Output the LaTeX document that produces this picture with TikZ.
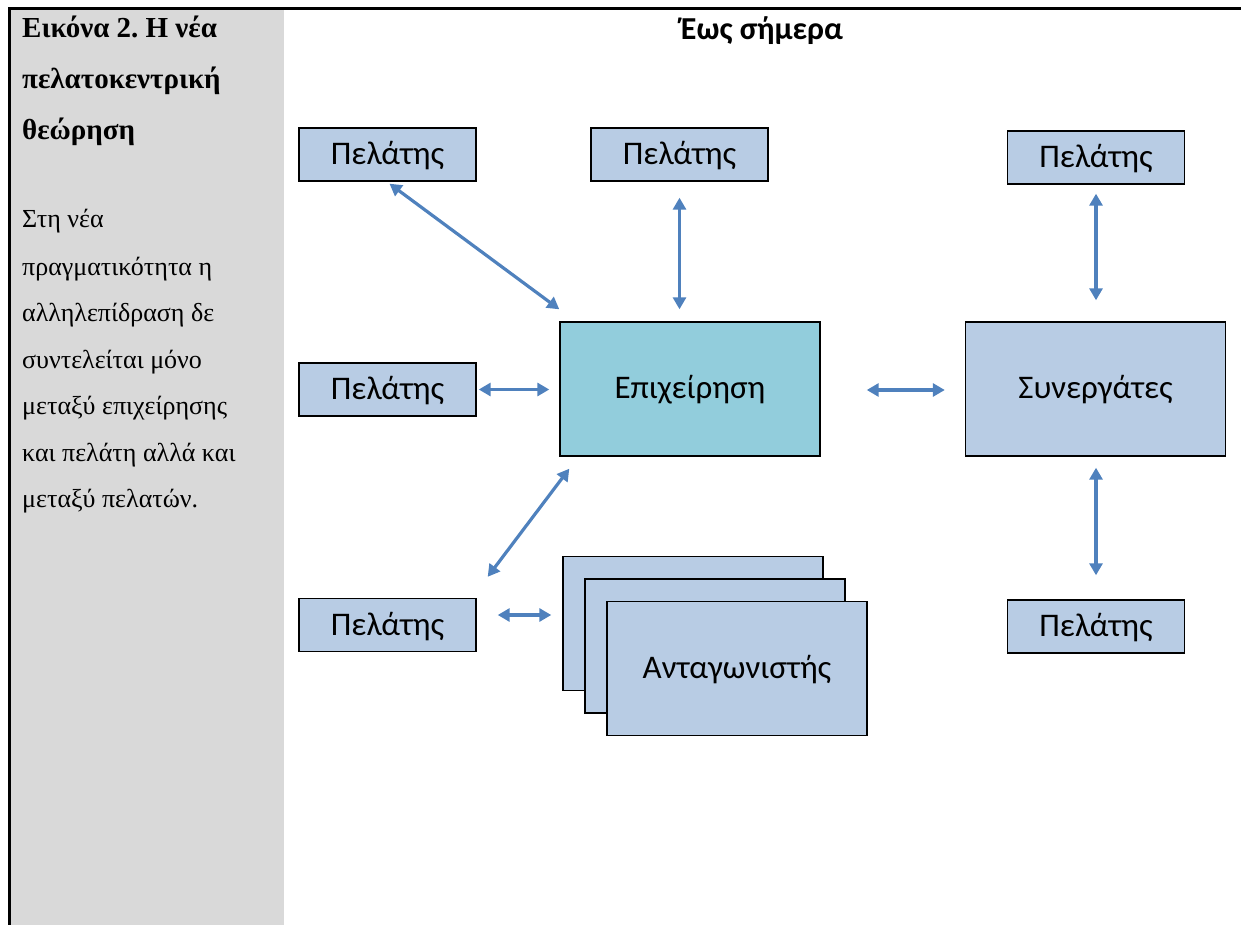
\documentclass[tikz,border=0pt]{standalone}
\usepackage{fontspec}
\setmainfont{Liberation Serif}
\newfontfamily\calibri{Carlito}
\usetikzlibrary{arrows.meta,calc}
\frenchspacing
\definecolor{arrowblue}{HTML}{4F81BD}
\definecolor{boxblue}{HTML}{B8CCE4}
\definecolor{entblue}{HTML}{92CDDC}
\definecolor{panelgray}{HTML}{D9D9D9}
\tikzset{
  biarrow/.style={draw=arrowblue, line width=3.2pt,
    {Triangle[length=12pt,width=13pt]}-{Triangle[length=12pt,width=13pt]}},
  pbox/.style={draw=black, line width=1.4pt, fill=boxblue, inner sep=0pt,
    minimum width=177pt, minimum height=53pt, text height=23pt, text depth=3pt,
    font=\calibri\fontsize{33}{38}\selectfont},
  bigbox/.style={draw=black, line width=1.4pt, fill=boxblue, inner sep=0pt,
    minimum width=260pt, minimum height=134pt, text height=23pt, text depth=4pt,
    font=\calibri\fontsize{33}{38}\selectfont},
  boldline/.style={anchor=base west, inner sep=0pt,
    font=\bfseries\fontsize{29}{34}\selectfont},
  bodyline/.style={anchor=base west, inner sep=0pt,
    font=\fontsize{26}{30}\selectfont},
}
\begin{document}
\begin{tikzpicture}[x=1pt,y=-1pt]
\useasboundingbox (0,0) rectangle (1241,925);
% left panel and borders
\fill[panelgray] (10,10) rectangle (284,925);
\draw[line width=3pt] (8,9) -- (1241,9);
\draw[line width=3pt] (9,9) -- (9,925);
% left texts
\node[boldline] (t1) at (22,38) {Εικόνα 2. Η νέα};
\node[boldline] (t2) at (22,89) {πελατοκεντρική};
\node[boldline] (t3) at (22,140) {θεώρηση};
\node[bodyline] (b1) at (22,228) {Στη νέα};
\node[bodyline] (b2) at (22,275) {πραγματικότητα η};
\node[bodyline] (b3) at (22,321) {αλληλεπίδραση δε};
\node[bodyline] (b4) at (22,368) {συντελείται μόνο};
\node[bodyline] (b5) at (22,414) {μεταξύ επιχείρησης};
\node[bodyline] (b6) at (22,461) {και πελάτη αλλά και};
\node[bodyline] (b7) at (22,507) {μεταξύ πελατών.};
% title
\node[anchor=base, inner sep=0pt, font=\calibri\bfseries\fontsize{32}{36}\selectfont] (title) at (762,40) {Έως σήμερα};
% boxes
\node[pbox] (p1) at (387.5,154.5) {Πελάτης};
\node[pbox] (p2) at (679.5,154.5) {Πελάτης};
\node[pbox] (p3) at (1096,157.5) {Πελάτης};
\node[pbox] (p4) at (387.5,389.5) {Πελάτης};
\node[pbox] (p5) at (387.5,625) {Πελάτης};
\node[pbox] (p6) at (1096,626.5) {Πελάτης};
\node[bigbox, fill=entblue] (ent) at (690,389) {Επιχείρηση};
\node[bigbox] (syn) at (1095.5,389) {Συνεργάτες};
\node[bigbox] (back) at (693,623.5) {};
\node[bigbox] (mid) at (715,646) {};
\node[bigbox] (front) at (737,668.5) {Ανταγωνιστής};
% arrows
\draw[biarrow] ($(p1.south)+(2,2)$) -- ($(ent.north west)+(0,-12)$);
\draw[biarrow, shorten <=16pt, shorten >=12pt] (p2.south) -- (p2.south |- ent.north);
\draw[biarrow, shorten <=9pt, shorten >=21pt] (p3.south) -- (p3.south |- syn.north);
\draw[biarrow, shorten <=2pt, shorten >=10pt] (p4.east) -- (p4.east -| ent.west);
\draw[biarrow] ($(ent.east)+(46,1)$) -- ($(syn.west)+(-20,1)$);
\draw[biarrow, shorten <=11pt, shorten >=24pt] (syn.south -| p6.north) -- (p6.north);
\draw[biarrow] ($(ent.south west)+(10,12)$) -- ($(p5.north east)+(11,-21)$);
\draw[biarrow] ($(p5.east)+(21,-10)$) -- ($(back.west |- p5.east)+(-11,-10)$);
\end{tikzpicture}
\end{document}
